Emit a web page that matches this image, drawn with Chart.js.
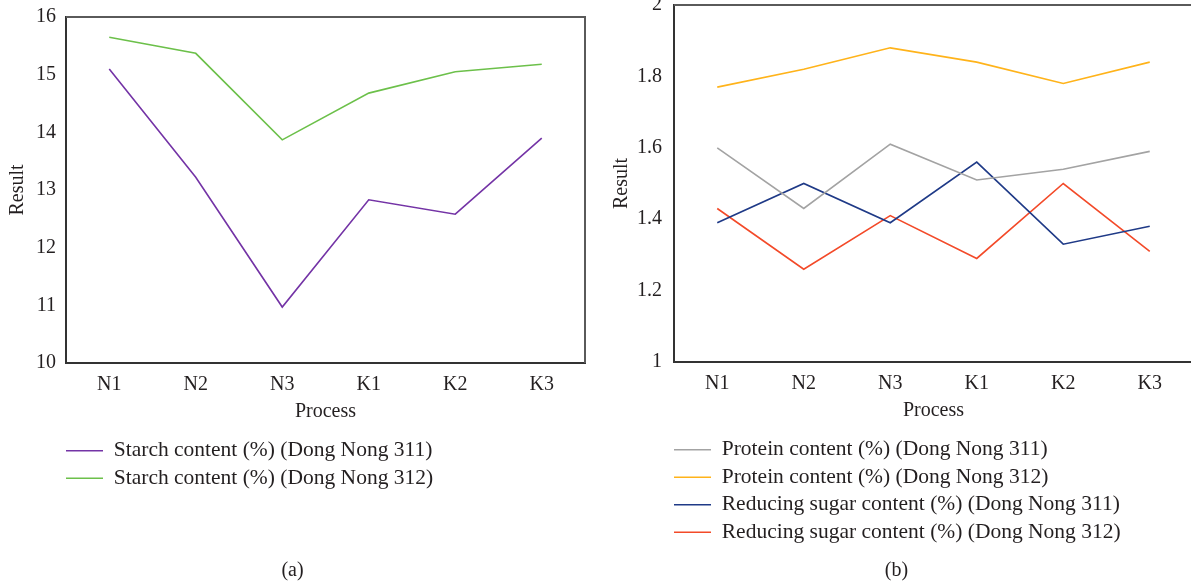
<!DOCTYPE html>
<html>
<head>
<meta charset="utf-8">
<script src="https://cdn.jsdelivr.net/npm/chart.js@4.4.1/dist/chart.umd.min.js"></script>
<style>
  html, body { margin: 0; padding: 0; background: #fff; overflow: hidden; }
  body { width: 1191px; height: 583px; position: relative; }
  .box { position: absolute; top: 0; height: 583px; }
  #boxA { left: 0; width: 595px; }
  #boxB { left: 600px; width: 593px; }
</style>
</head>
<body>
<div class="box" id="boxA"><canvas id="chartA"></canvas></div>
<div class="box" id="boxB"><canvas id="chartB"></canvas></div>
<script>
// dane
const processLabels = ['N1', 'N2', 'N3', 'K1', 'K2', 'K3'];

const starch311 = [15.1, 13.22, 10.97, 12.83, 12.58, 13.9];
const starch312 = [15.65, 15.37, 13.87, 14.68, 15.05, 15.18];

const protein311 = [1.6, 1.43, 1.61, 1.51, 1.54, 1.59];
const protein312 = [1.77, 1.82, 1.88, 1.84, 1.78, 1.84];
const sugar311 = [1.39, 1.5, 1.39, 1.56, 1.33, 1.38];
const sugar312 = [1.43, 1.26, 1.41, 1.29, 1.5, 1.31];

const FONT = "'Liberation Serif', 'Times New Roman', serif";
const TEXT = '#231f20';

// ramka: gorna i prawa krawedz obszaru wykresu
const framePlugin = {
  id: 'frame',
  afterDraw(chart) {
    const { ctx, chartArea: a } = chart;
    ctx.save();
    ctx.strokeStyle = '#5a5a5a';
    ctx.lineWidth = 2;
    ctx.beginPath();
    ctx.moveTo(a.left, a.top);
    ctx.lineTo(a.right, a.top);
    ctx.lineTo(a.right, a.bottom);
    ctx.stroke();
    ctx.restore();
  }
};

// legenda zaczyna sie rowno z lewa krawedzia osi
const legendShift = {
  id: 'legendShift',
  afterLayout(chart) {
    const pad = chart.options.plugins.legend.labels.padding;
    chart.legend.left = chart.chartArea.left - pad;
  }
};

function line(label, data, color) {
  return {
    label: label,
    data: data,
    borderColor: color,
    backgroundColor: color,
    borderWidth: 1.6,
    pointRadius: 0,
    tension: 0
  };
}

function makeChart(id, datasets, opts) {
  return new Chart(document.getElementById(id), {
    type: 'line',
    data: { labels: processLabels, datasets: datasets },
    plugins: [framePlugin, legendShift],
    options: {
      responsive: true,
      maintainAspectRatio: false,
      animation: false,
      layout: { padding: opts.padding },
      plugins: {
        tooltip: { enabled: false },
        legend: {
          position: 'bottom',
          align: 'start',
          fullSize: false,
          labels: {
            usePointStyle: true,
            pointStyle: 'line',
            pointStyleWidth: 37,
            padding: 6,
            color: TEXT,
            font: { family: FONT, size: 21.5 }
          }
        },
        title: {
          display: true,
          position: 'bottom',
          text: opts.caption,
          color: TEXT,
          font: { family: FONT, size: 20, weight: 'normal' },
          padding: { top: opts.captionTop, bottom: 0 }
        }
      },
      scales: {
        x: {
          type: 'category',
          offset: true,
          grid: { display: false, drawTicks: false, tickLength: 0 },
          border: { display: true, color: '#333', width: 2 },
          ticks: { color: TEXT, font: { family: FONT, size: 20 }, padding: 10, maxRotation: 0 },
          title: {
            display: true, text: 'Process', color: TEXT,
            font: { family: FONT, size: 20 }, padding: { top: 3, bottom: 10 }
          },
          afterFit: s => { s.height = 71; }
        },
        y: {
          type: 'linear',
          min: opts.min,
          max: opts.max,
          grid: { display: false, drawTicks: false, tickLength: 0 },
          border: { display: true, color: '#333', width: 2 },
          ticks: {
            stepSize: opts.step,
            color: TEXT,
            font: { family: FONT, size: 20 },
            padding: opts.tickPad,
            callback: v => String(+v.toFixed(1))
          },
          title: {
            display: true, text: 'Result', color: TEXT,
            font: { family: FONT, size: 20 }, padding: { top: opts.titlePad, bottom: 0 }
          },
          afterFit: s => { s.width = opts.axisWidth; s.paddingTop = 0; }
        }
      }
    }
  });
}

makeChart('chartA', [
  line('Starch content (%) (Dong Nong 311)', starch311, '#7434a6'),
  line('Starch content (%) (Dong Nong 312)', starch312, '#6cc04a')
], {
  padding: { top: 17, right: 10, bottom: 0, left: 0 },
  caption: '(a)', captionTop: 60,
  min: 10, max: 16, step: 1,
  tickPad: 10, titlePad: 6, axisWidth: 66
});

makeChart('chartB', [
  line('Protein content (%) (Dong Nong 311)', protein311, '#a3a3a3'),
  line('Protein content (%) (Dong Nong 312)', protein312, '#ffb31a'),
  line('Reducing sugar content (%) (Dong Nong 311)', sugar311, '#1f3a87'),
  line('Reducing sugar content (%) (Dong Nong 312)', sugar312, '#f34a29')
], {
  padding: { top: 5, right: 0, bottom: 0, left: 0 },
  caption: '(b)', captionTop: 6,
  min: 1, max: 2, step: 0.2,
  tickPad: 12, titlePad: 10, axisWidth: 74
});
</script>
</body>
</html>
